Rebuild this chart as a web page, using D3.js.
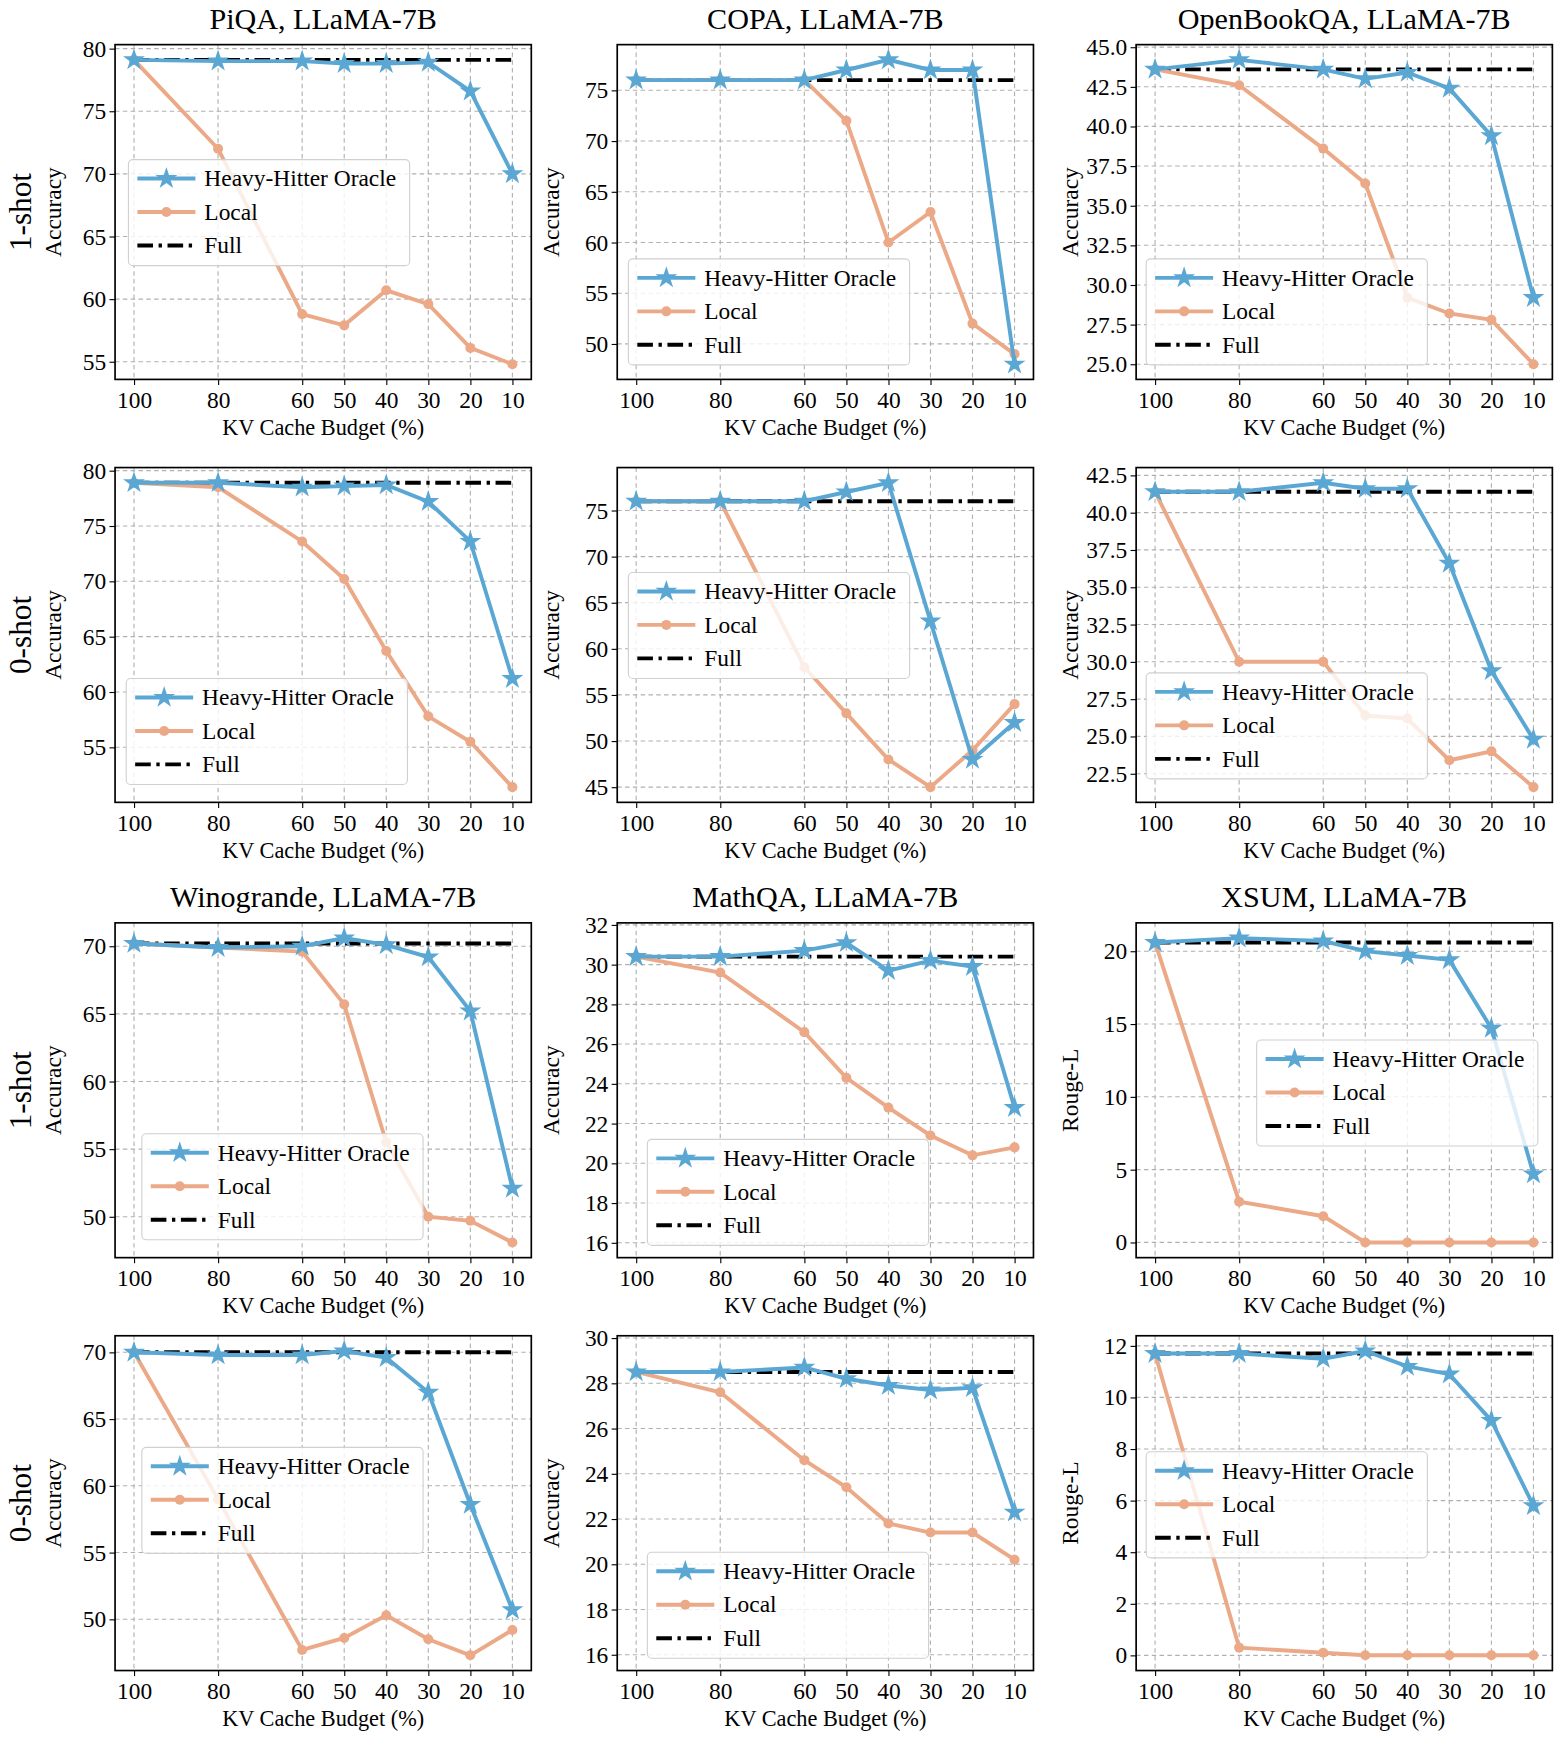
<!DOCTYPE html>
<html><head><meta charset="utf-8">
<script src="https://cdn.jsdelivr.net/npm/d3@7"></script>
<style>body{margin:0;background:#fff}text{font-family:"Liberation Serif","DejaVu Serif",serif}</style>
</head><body>
<svg id="chart" width="1567" height="1752" viewBox="0 0 1404 1570"></svg>
<script>
var budgets = [100, 80, 60, 50, 40, 30, 20, 10];

var piqa1_h2o = [79.1, 79.0, 79.0, 78.8, 78.8, 78.9, 76.6, 70.0];
var piqa1_local = [79.1, 72.0, 58.8, 57.9, 60.7, 59.6, 56.1, 54.8];
var copa1_h2o = [76, 76, 76, 77, 78, 77, 77, 48];
var copa1_local = [76, 76, 76, 72, 60, 63, 52, 49];
var obqa1_h2o = [43.6, 44.2, 43.6, 43.0, 43.4, 42.4, 39.4, 29.2];
var obqa1_local = [43.6, 42.6, 38.6, 36.4, 29.2, 28.2, 27.8, 25.0];
var piqa0_h2o = [78.9, 78.9, 78.5, 78.6, 78.7, 77.2, 73.6, 61.2];
var piqa0_local = [78.9, 78.5, 73.6, 70.2, 63.7, 57.8, 55.5, 51.4];
var copa0_h2o = [76, 76, 76, 77, 78, 63, 48, 52];
var copa0_local = [76, 76, 58, 53, 48, 45, 49, 54];
var obqa0_h2o = [41.4, 41.4, 42.0, 41.6, 41.6, 36.6, 29.4, 24.8];
var obqa0_local = [41.4, 30.0, 30.0, 26.4, 26.2, 23.4, 24.0, 21.6];
var wino1_h2o = [70.2, 69.9, 70.0, 70.6, 70.1, 69.2, 65.2, 52.1];
var wino1_local = [70.2, 69.9, 69.6, 65.7, 55.5, 50.0, 49.7, 48.1];
var math1_h2o = [30.4, 30.4, 30.7, 31.1, 29.7, 30.2, 29.9, 22.8];
var math1_local = [30.4, 29.6, 26.6, 24.3, 22.8, 21.4, 20.4, 20.8];
var xsum1_h2o = [20.6, 20.9, 20.7, 20.0, 19.7, 19.4, 14.7, 4.7];
var xsum1_local = [20.6, 2.8, 1.8, 0, 0, 0, 0, 0];
var wino0_h2o = [70.0, 69.8, 69.8, 70.1, 69.6, 67.0, 58.6, 50.7];
var wino0_local = [70.0, 59.0, 47.7, 48.6, 50.3, 48.5, 47.3, 49.2];
var math0_h2o = [28.5, 28.5, 28.7, 28.2, 27.9, 27.7, 27.8, 22.3];
var math0_local = [28.5, 27.6, 24.6, 23.4, 21.8, 21.4, 21.4, 20.2];
var xsum0_h2o = [11.7, 11.7, 11.5, 11.8, 11.2, 10.9, 9.1, 5.8];
var xsum0_local = [11.7, 0.3, 0.1, 0.0, 0.0, 0.0, 0.0, 0.0];

var titles = ["PiQA, LLaMA-7B", "COPA, LLaMA-7B", "OpenBookQA, LLaMA-7B", "Winogrande, LLaMA-7B", "MathQA, LLaMA-7B", "XSUM, LLaMA-7B"];
var row_labels = ["1-shot", "0-shot", "1-shot", "0-shot"];
var legend_labels = ["Heavy-Hitter Oracle", "Local", "Full"];

var panels = [
  {h: piqa1_h2o, l: piqa1_local, full: 79.1, ticks: [55,60,65,70,75,80], fmt: "d", yl: "Accuracy"},
  {h: copa1_h2o, l: copa1_local, full: 76, ticks: [50,55,60,65,70,75], fmt: "d", yl: "Accuracy"},
  {h: obqa1_h2o, l: obqa1_local, full: 43.6, ticks: [25,27.5,30,32.5,35,37.5,40,42.5,45], fmt: ".1f", yl: "Accuracy"},
  {h: piqa0_h2o, l: piqa0_local, full: 78.9, ticks: [55,60,65,70,75,80], fmt: "d", yl: "Accuracy"},
  {h: copa0_h2o, l: copa0_local, full: 76, ticks: [45,50,55,60,65,70,75], fmt: "d", yl: "Accuracy"},
  {h: obqa0_h2o, l: obqa0_local, full: 41.4, ticks: [22.5,25,27.5,30,32.5,35,37.5,40,42.5], fmt: ".1f", yl: "Accuracy"},
  {h: wino1_h2o, l: wino1_local, full: 70.2, ticks: [50,55,60,65,70], fmt: "d", yl: "Accuracy"},
  {h: math1_h2o, l: math1_local, full: 30.4, ticks: [16,18,20,22,24,26,28,30,32], fmt: "d", yl: "Accuracy", ylim: [15.25, 32.1]},
  {h: xsum1_h2o, l: xsum1_local, full: 20.6, ticks: [0,5,10,15,20], fmt: "d", yl: "Rouge-L"},
  {h: wino0_h2o, l: wino0_local, full: 70.0, ticks: [50,55,60,65,70], fmt: "d", yl: "Accuracy"},
  {h: math0_h2o, l: math0_local, full: 28.5, ticks: [16,18,20,22,24,26,28,30], fmt: "d", yl: "Accuracy", ylim: [15.3, 30.1]},
  {h: xsum0_h2o, l: xsum0_local, full: 11.7, ticks: [0,2,4,6,8,10,12], fmt: "d", yl: "Rouge-L"}
];

// layout (viewBox units)
var col_x = [103, 553, 1018];
var row_y = [40, 419, 827, 1197];
var pw = 373, ph = 300;
var legend_pos = [[12,103],[10,192],[9,192],[10,189],[10,94],[9,184],[24,189],[27,194],[108,105],[24,100],[27,194],[9,104]];

var blue = "#5ba7d4", orange = "#eba987";
var svg = d3.select("#chart");
var star = d3.symbol().type(d3.symbolStar).size(120);

panels.forEach(function(p, i)
{
  var r = Math.floor(i / 3), c = i % 3;
  var g = svg.append("g").attr("transform", "translate(" + col_x[c] + "," + row_y[r] + ")");
  var x = d3.scaleLinear().domain([104.5, 5.5]).range([0, pw]);
  var all = p.h.concat(p.l, [p.full]);
  var mn = d3.min(all), mx = d3.max(all), pad = (mx - mn) * 0.05;
  var y = d3.scaleLinear().domain(p.ylim || [mn - pad, mx + pad]).range([ph, 0]);

  // grid
  g.append("g").selectAll("line").data(budgets).enter().append("line")
    .attr("x1", d => x(d)).attr("x2", d => x(d)).attr("y1", 0).attr("y2", ph)
    .attr("stroke", "#b0b0b0").attr("stroke-dasharray", "4,3");
  g.append("g").selectAll("line").data(p.ticks).enter().append("line")
    .attr("x1", 0).attr("x2", pw).attr("y1", d => y(d)).attr("y2", d => y(d))
    .attr("stroke", "#b0b0b0").attr("stroke-dasharray", "4,3");

  var xa = g.append("g").attr("transform", "translate(0," + ph + ")")
    .call(d3.axisBottom(x).tickValues(budgets).tickSize(5).tickSizeOuter(0));
  var ya = g.append("g").call(d3.axisLeft(y).tickValues(p.ticks).tickFormat(d3.format(p.fmt)).tickSize(5).tickSizeOuter(0));
  [xa, ya].forEach(function(a){
    a.select(".domain").remove();
    a.selectAll("text").style("font-size", "21px").attr("fill", "#000");
    a.selectAll("line").attr("stroke", "#000");
  });
  xa.selectAll("text").attr("dy", "0.85em");

  var line = d3.line().x((d, k) => x(budgets[k])).y(d => y(d));
  g.append("line").attr("x1", x(100)).attr("x2", x(10)).attr("y1", y(p.full)).attr("y2", y(p.full))
    .attr("stroke", "#000").attr("stroke-width", 3.5).attr("stroke-dasharray", "14,5,3,5");
  g.append("path").datum(p.l).attr("d", line).attr("fill", "none").attr("stroke", orange).attr("stroke-width", 3.5);
  g.selectAll(".dot").data(p.l).enter().append("circle").attr("class", "dot")
    .attr("cx", (d, k) => x(budgets[k])).attr("cy", d => y(d)).attr("r", 4.5).attr("fill", orange);
  g.append("path").datum(p.h).attr("d", line).attr("fill", "none").attr("stroke", blue).attr("stroke-width", 3.5);
  g.selectAll(".star").data(p.h).enter().append("path").attr("class", "star").attr("d", star)
    .attr("transform", (d, k) => "translate(" + x(budgets[k]) + "," + y(d) + ")").attr("fill", blue);

  g.append("rect").attr("width", pw).attr("height", ph).attr("fill", "none").attr("stroke", "#000").attr("stroke-width", 1.5);

  // legend
  var lp = legend_pos[i];
  var lg = g.append("g").attr("transform", "translate(" + lp[0] + "," + lp[1] + ")");
  lg.append("rect").attr("width", 252).attr("height", 95).attr("rx", 4)
    .attr("fill", "rgba(255,255,255,0.8)").attr("stroke", "#d0d0d0");
  legend_labels.forEach(function(t, k){
    var yy = 17 + k * 30;
    var col = k == 0 ? blue : k == 1 ? orange : "#000";
    var ln = lg.append("line").attr("x1", 8).attr("x2", 60).attr("y1", yy).attr("y2", yy)
      .attr("stroke", col).attr("stroke-width", 3.5);
    if (k == 2) ln.attr("stroke-dasharray", "14,5,3,5");
    if (k == 0) lg.append("path").attr("d", star).attr("transform", "translate(34," + yy + ")").attr("fill", blue);
    if (k == 1) lg.append("circle").attr("cx", 34).attr("cy", yy).attr("r", 4.5).attr("fill", orange);
    lg.append("text").attr("x", 68).attr("y", yy + 7).style("font-size", "21px").text(t);
  });

  g.append("text").attr("x", pw / 2).attr("y", ph + 50).attr("text-anchor", "middle").style("font-size", "20px").text("KV Cache Budget (%)");
  g.append("text").attr("transform", "translate(" + (c == 0 ? -48 : -52) + "," + (ph / 2) + ") rotate(-90)")
    .attr("text-anchor", "middle").style("font-size", "21px").text(p.yl);
  if (r == 0 || r == 2)
    g.append("text").attr("x", pw / 2).attr("y", -14).attr("text-anchor", "middle").style("font-size", "27px").text(titles[c + (r == 2 ? 3 : 0)]);
});

row_labels.forEach(function(t, r){
  svg.append("text").attr("transform", "translate(28," + (row_y[r] + ph / 2) + ") rotate(-90)")
    .attr("text-anchor", "middle").style("font-size", "28px").text(t);
});
</script>
</body></html>
